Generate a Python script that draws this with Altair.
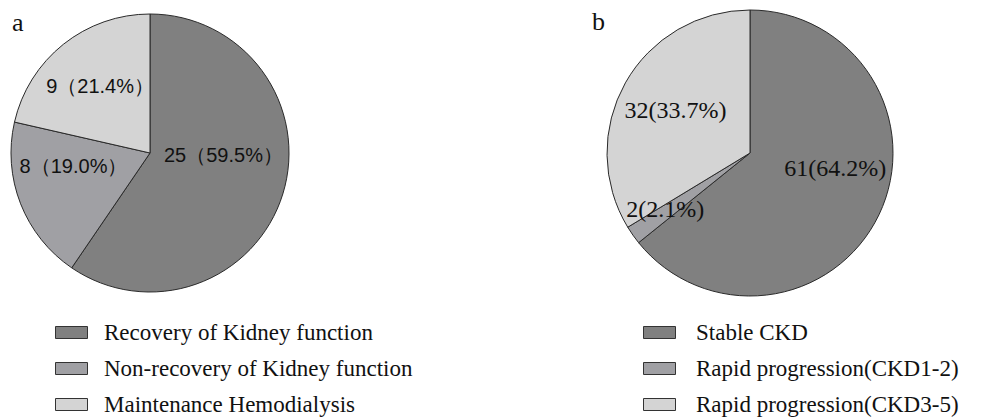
import altair as alt
import pandas as pd

# ---- data ----
panel_letters = ["a", "b"]
cats_a = ["Recovery of Kidney function", "Non-recovery of Kidney function", "Maintenance Hemodialysis"]
counts_a = [25, 8, 9]
labels_a = ["25（59.5%）", "8（19.0%）", "9（21.4%）"]
cats_b = ["Stable CKD", "Rapid progression(CKD1-2)", "Rapid progression(CKD3-5)"]
counts_b = [61, 2, 32]
labels_b = ["61(64.2%)", "2(2.1%)", "32(33.7%)"]
colors = ["#808080", "#a0a0a4", "#d4d4d4"]

df_a = pd.DataFrame({"catA": cats_a, "count": counts_a, "label": labels_a, "idx": list(range(len(cats_a)))})
df_b = pd.DataFrame({"catB": cats_b, "count": counts_b, "label": labels_b, "idx": list(range(len(cats_b)))})

SYM = "M-1,-0.375H1V0.375H-1Z"


def legend(x, y, offset):
    return alt.Legend(
        orient="none", legendX=x, legendY=y, direction="vertical", title=None,
        symbolType=SYM, symbolSize=1024, symbolStrokeColor="#333333", symbolStrokeWidth=1,
        symbolOpacity=1, labelFont="Liberation Serif", labelFontSize=23, labelColor="#111111",
        labelOffset=offset, rowPadding=7, padding=0, labelLimit=400,
    )


CA = (142, 142)
CB = (742, 142)

# label nudges (style only), one per slice
nudge_a = [(-3, -21), (-2, -15), (0, -3)]
nudge_b = [(4, -23), (-11, 5), (4, 2)]


def labels(df, center, r, font, size, nudges):
    layers = []
    for i, (ddx, ddy) in enumerate(nudges):
        layers.append(
            alt.Chart(df).mark_text(radius=r, font=font, fontSize=size, color="#111111", dx=ddx, dy=ddy).encode(
                theta=alt.Theta("count:Q", stack=True),
                order=alt.Order("idx:Q"),
                text="label:N",
                opacity=alt.condition(alt.datum.idx == i, alt.value(1), alt.value(0)),
                x=alt.value(center[0]), y=alt.value(center[1]),
            )
        )
    return layers


arc_a = alt.Chart(df_a).mark_arc(radius=139, stroke="#2a2a2a", strokeWidth=1).encode(
    theta=alt.Theta("count:Q", stack=True),
    order=alt.Order("idx:Q"),
    color=alt.Color("catA:N", scale=alt.Scale(domain=cats_a, range=colors), legend=legend(47, 305, 16)),
    x=alt.value(CA[0]), y=alt.value(CA[1]),
)
arc_b = alt.Chart(df_b).mark_arc(radius=143, stroke="#2a2a2a", strokeWidth=1).encode(
    theta=alt.Theta("count:Q", stack=True),
    order=alt.Order("idx:Q"),
    color=alt.Color("catB:N", scale=alt.Scale(domain=cats_b, range=colors), legend=legend(635, 305, 20)),
    x=alt.value(CB[0]), y=alt.value(CB[1]),
)

title_a = alt.Chart(pd.DataFrame({"p": [panel_letters[0]]})).mark_text(
    font="Liberation Serif", fontSize=26, align="left", baseline="alphabetic", color="#111111"
).encode(text="p:N", x=alt.value(4), y=alt.value(20))
title_b = alt.Chart(pd.DataFrame({"p": [panel_letters[1]]})).mark_text(
    font="Liberation Serif", fontSize=26, align="left", baseline="alphabetic", color="#111111"
).encode(text="p:N", x=alt.value(584), y=alt.value(19))

chart = alt.layer(
    arc_a, *labels(df_a, CA, 80, "Liberation Sans", 20, nudge_a),
    arc_b, *labels(df_b, CB, 90, "Liberation Serif", 24, nudge_b),
    title_a, title_b,
).resolve_scale(
    theta="independent", color="independent", opacity="independent"
).properties(width=979, height=402, padding=0).configure_view(stroke=None)

chart.save("out.html", embed_options={"renderer": "svg", "actions": False})
